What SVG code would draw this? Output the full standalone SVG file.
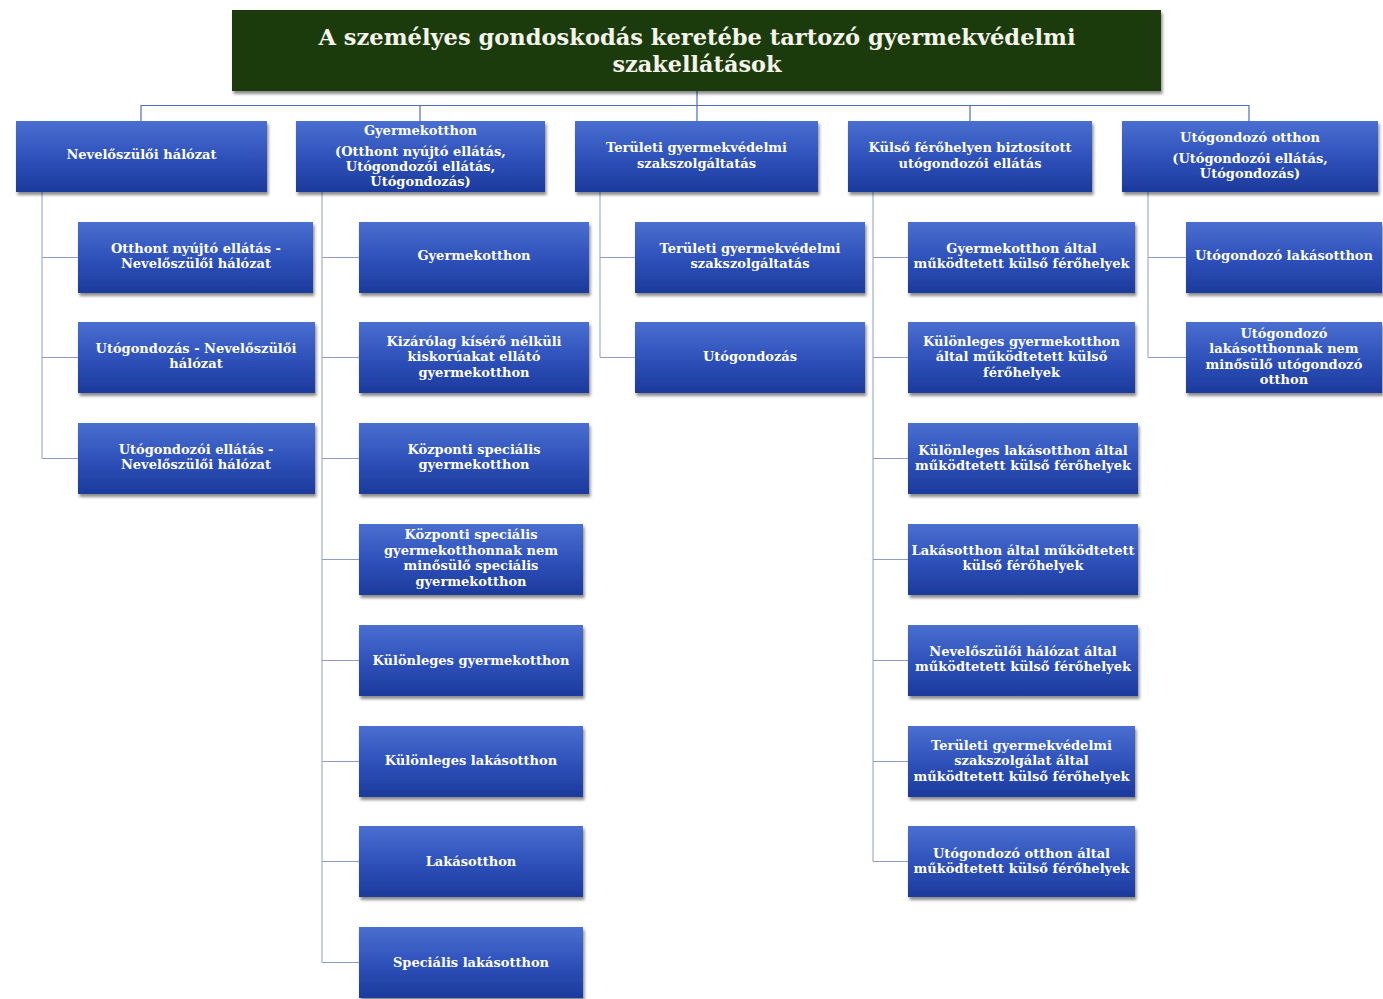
<svg xmlns="http://www.w3.org/2000/svg" width="1383" height="999" viewBox="0 0 1383 999">
<defs>
<linearGradient id="bg" x1="0" y1="0" x2="0" y2="1">
<stop offset="0" stop-color="#4a6fd0"/>
<stop offset="0.5" stop-color="#2f52bb"/>
<stop offset="1" stop-color="#1c3a9c"/>
</linearGradient>
<filter id="sh" x="-5%" y="-10%" width="112%" height="130%">
<feDropShadow dx="1.5" dy="3" stdDeviation="1.8" flood-color="#000" flood-opacity="0.45"/>
</filter>
<style>
.box{fill:url(#bg);filter:url(#sh)}
.title{fill:#1f3b0d;filter:url(#sh)}
.t{font-family:"DejaVu Serif","Liberation Serif",serif;font-weight:bold;font-size:13px;fill:#ffffff;text-anchor:middle}
.tt{font-family:"DejaVu Serif Condensed","DejaVu Serif","Liberation Serif",serif;font-stretch:condensed;font-weight:bold;font-size:22px;fill:#f4f4ea;text-anchor:middle}
.c1{stroke:#4f6cbf;stroke-width:1.2;fill:none}
.c2{stroke:#8e9dc8;stroke-width:1;fill:none}
</style>
</defs>
<rect width="1383" height="999" fill="#ffffff"/>

<g id="connectors">
<path class="c1" d="M697 91V121M141 105.5H1249M141 105V121M420 105V121M970 105V121M1249 105V121"/>
<path class="c2" d="M42 192V458.5M42 257.5H78M42 357.5H78M42 458.5H78"/>
<path class="c2" d="M322 192V962.5M322 257.5H359M322 357.5H359M322 458.5H359M322 559.5H359M322 660.5H359M322 761.5H359M322 861.5H359M322 962.5H359"/>
<path class="c2" d="M600 192V357.5M600 257.5H635M600 357.5H635"/>
<path class="c2" d="M873 192V861.5M873 257.5H908M873 357.5H908M873 458.5H908M873 559.5H908M873 660.5H908M873 761.5H908M873 861.5H908"/>
<path class="c2" d="M1148 192V357.5M1148 257.5H1186M1148 357.5H1186"/>
</g>

<g id="title">
<rect class="title" x="232" y="10" width="929" height="81"/>
<text class="tt" x="697" y="45" textLength="757" lengthAdjust="spacingAndGlyphs">A személyes gondoskodás keretébe tartozó gyermekvédelmi</text>
<text class="tt" x="697" y="72" textLength="169" lengthAdjust="spacingAndGlyphs">szakellátások</text>
</g>

<g id="n1">
<rect class="box" x="16" y="121" width="251" height="71"/>
<text class="t" x="141.5" y="159">Nevelőszülői hálózat</text>
</g>
<g id="n2">
<rect class="box" x="296" y="121" width="249" height="71"/>
<text class="t" x="420.5" y="135">Gyermekotthon</text>
<text class="t" x="420.5" y="156">(Otthont nyújtó ellátás,</text>
<text class="t" x="420.5" y="171">Utógondozói ellátás,</text>
<text class="t" x="420.5" y="186">Utógondozás)</text>
</g>
<g id="n3">
<rect class="box" x="575" y="121" width="243" height="71"/>
<text class="t" x="696.5" y="152">Területi gyermekvédelmi</text>
<text class="t" x="696.5" y="168">szakszolgáltatás</text>
</g>
<g id="n4">
<rect class="box" x="848" y="121" width="244" height="71"/>
<text class="t" x="970" y="152">Külső férőhelyen biztosított</text>
<text class="t" x="970" y="168">utógondozói ellátás</text>
</g>
<g id="n5">
<rect class="box" x="1122" y="121" width="256" height="71"/>
<text class="t" x="1250" y="142">Utógondozó otthon</text>
<text class="t" x="1250" y="163">(Utógondozói ellátás,</text>
<text class="t" x="1250" y="178">Utógondozás)</text>
</g>

<g id="n1a">
<rect class="box" x="78" y="222" width="235" height="71"/>
<text class="t" x="196" y="252.5">Otthont nyújtó ellátás -</text>
<text class="t" x="196" y="268">Nevelőszülői hálózat</text>
</g>
<g id="n1b">
<rect class="box" x="78" y="322" width="237" height="71"/>
<text class="t" x="196" y="352.5">Utógondozás - Nevelőszülői</text>
<text class="t" x="196" y="368">hálózat</text>
</g>
<g id="n1c">
<rect class="box" x="78" y="423" width="237" height="71"/>
<text class="t" x="196" y="453.5">Utógondozói ellátás -</text>
<text class="t" x="196" y="469">Nevelőszülői hálózat</text>
</g>

<g id="n2a">
<rect class="box" x="359" y="222" width="230" height="71"/>
<text class="t" x="474" y="260">Gyermekotthon</text>
</g>
<g id="n2b">
<rect class="box" x="359" y="322" width="230" height="71"/>
<text class="t" x="474" y="345.5">Kizárólag kísérő nélküli</text>
<text class="t" x="474" y="361">kiskorúakat ellátó</text>
<text class="t" x="474" y="376.5">gyermekotthon</text>
</g>
<g id="n2c">
<rect class="box" x="359" y="423" width="230" height="71"/>
<text class="t" x="474" y="453.5">Központi speciális</text>
<text class="t" x="474" y="469">gyermekotthon</text>
</g>
<g id="n2d">
<rect class="box" x="359" y="524" width="224" height="71"/>
<text class="t" x="471" y="539">Központi speciális</text>
<text class="t" x="471" y="554.5">gyermekotthonnak nem</text>
<text class="t" x="471" y="570">minősülő speciális</text>
<text class="t" x="471" y="585.5">gyermekotthon</text>
</g>
<g id="n2e">
<rect class="box" x="359" y="625" width="224" height="71"/>
<text class="t" x="471" y="664.5">Különleges gyermekotthon</text>
</g>
<g id="n2f">
<rect class="box" x="359" y="726" width="224" height="71"/>
<text class="t" x="471" y="765">Különleges lakásotthon</text>
</g>
<g id="n2g">
<rect class="box" x="359" y="826" width="224" height="71"/>
<text class="t" x="471" y="865.5">Lakásotthon</text>
</g>
<g id="n2h">
<rect class="box" x="359" y="927" width="224" height="71"/>
<text class="t" x="471" y="966.5">Speciális lakásotthon</text>
</g>

<g id="n3a">
<rect class="box" x="635" y="222" width="230" height="71"/>
<text class="t" x="750" y="252.5">Területi gyermekvédelmi</text>
<text class="t" x="750" y="268">szakszolgáltatás</text>
</g>
<g id="n3b">
<rect class="box" x="635" y="322" width="230" height="71"/>
<text class="t" x="750" y="360.5">Utógondozás</text>
</g>

<g id="n4a">
<rect class="box" x="908" y="222" width="227" height="71"/>
<text class="t" x="1021.5" y="252.5">Gyermekotthon által</text>
<text class="t" x="1021.5" y="268">működtetett külső férőhelyek</text>
</g>
<g id="n4b">
<rect class="box" x="908" y="322" width="227" height="71"/>
<text class="t" x="1021.5" y="345.5">Különleges gyermekotthon</text>
<text class="t" x="1021.5" y="361">által működtetett külső</text>
<text class="t" x="1021.5" y="376.5">férőhelyek</text>
</g>
<g id="n4c">
<rect class="box" x="908" y="423" width="230" height="71"/>
<text class="t" x="1023" y="454.5">Különleges lakásotthon által</text>
<text class="t" x="1023" y="470">működtetett külső férőhelyek</text>
</g>
<g id="n4d">
<rect class="box" x="908" y="524" width="230" height="71"/>
<text class="t" x="1023" y="554.5">Lakásotthon által működtetett</text>
<text class="t" x="1023" y="570">külső férőhelyek</text>
</g>
<g id="n4e">
<rect class="box" x="908" y="625" width="230" height="71"/>
<text class="t" x="1023" y="655.5">Nevelőszülői hálózat által</text>
<text class="t" x="1023" y="671">működtetett külső férőhelyek</text>
</g>
<g id="n4f">
<rect class="box" x="908" y="726" width="227" height="71"/>
<text class="t" x="1021.5" y="749.5">Területi gyermekvédelmi</text>
<text class="t" x="1021.5" y="765">szakszolgálat által</text>
<text class="t" x="1021.5" y="780.5">működtetett külső férőhelyek</text>
</g>
<g id="n4g">
<rect class="box" x="908" y="826" width="227" height="71"/>
<text class="t" x="1021.5" y="857.5">Utógondozó otthon által</text>
<text class="t" x="1021.5" y="873">működtetett külső férőhelyek</text>
</g>

<g id="n5a">
<rect class="box" x="1186" y="222" width="196" height="71"/>
<text class="t" x="1284" y="260">Utógondozó lakásotthon</text>
</g>
<g id="n5b">
<rect class="box" x="1186" y="322" width="196" height="71"/>
<text class="t" x="1284" y="337.5">Utógondozó</text>
<text class="t" x="1284" y="353">lakásotthonnak nem</text>
<text class="t" x="1284" y="368.5">minősülő utógondozó</text>
<text class="t" x="1284" y="384">otthon</text>
</g>
</svg>
